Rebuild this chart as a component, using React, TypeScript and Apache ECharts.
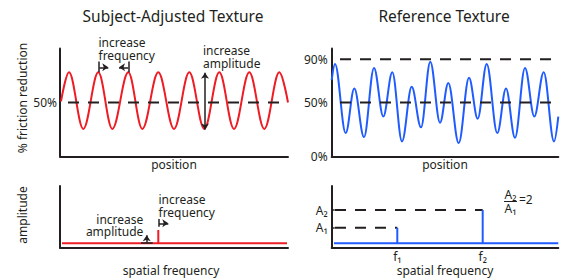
import React, { useEffect, useRef } from 'react';
import * as echarts from 'echarts';

const FONT = '"Noto Sans", "DejaVu Sans", sans-serif';
const INK = '#231f20';
const RED = '#ee1c24';
const BLUE = '#1f5bff';

// Subject-adjusted texture: position vs % friction reduction (extrema)
const subjectPos = [1, 9, 23.3, 38.3, 52.3, 68.3, 82.3, 98.3, 114, 129.3, 144.3, 159.3, 174, 189.3, 204.3, 219.3, 228];
const subjectFriction = [51, 78, 25.5, 78, 25.5, 78, 25.5, 78, 25.5, 78, 25.5, 78, 25.5, 78, 25.5, 78, 50];
const subjectLevels = [50];

// Reference texture
const refPos = [0, 3.3, 14, 22.6, 32.3, 42.3, 51.6, 60.6, 70.3, 80, 89.3, 98.6, 108.3, 116.6, 127, 137.3, 146, 155, 165.6, 174.3, 183.3, 193.3, 202.6, 212, 222.3, 226.6];
const refFriction = [70.8, 85.7, 21.7, 63, 18, 82, 37, 78, 14, 64.5, 27, 87.8, 31.3, 68, 12.4, 73, 35, 85.7, 21.7, 63, 17.4, 82, 37, 78, 14, 37];
const refLevels = [50, 90];

const leftTickValues = [50];
const rightTickValues = [0, 50, 90];

// Spectra
const spectrumBase = 0.71;
const subjectFreq = 98.3;
const subjectAmp = 2.85;
const refFreqs = [65.6, 151];
const refAmps = [3.24, 6.11];
const freqLabels = ['f\u2081', 'f\u2082'];
const ampLabels = ['A\u2081', 'A\u2082'];

const TOP_W = 228;
const TOP_W2 = 226.6;

const arrowLine = (a: number[], b: number[], s0 = 'none', s1 = 'arrow') => [
  { coord: a, symbol: s0 },
  { coord: b, symbol: s1 },
];

const txt = (text: string, x: number, y: number, opts: any = {}) => ({
  type: 'text',
  x,
  y,
  rotation: opts.rotation || 0,
  silent: true,
  style: {
    text,
    x: 0,
    y: 0,
    fill: INK,
    fontFamily: FONT,
    fontSize: opts.fontSize || 12,
    align: opts.align || 'center',
    verticalAlign: opts.verticalAlign || 'middle',
    textAlign: opts.align || 'center',
    textVerticalAlign: opts.verticalAlign || 'middle',
  },
});

export default function App() {
  const ref = useRef<HTMLDivElement>(null);

  useEffect(() => {
    if (!ref.current) return;
    const chart = echarts.init(ref.current, undefined, { renderer: 'svg' });

    const axisLine = { show: true, lineStyle: { color: INK, width: 2 } };
    const baseAxis = (gridIndex: number, max: number, extra: any = {}) => ({
      type: 'value',
      gridIndex,
      min: 0,
      max,
      axisLine,
      axisTick: { show: false },
      splitLine: { show: false },
      axisLabel: { show: false },
      ...extra,
    });

    const dashStyle = { color: INK, width: 2, type: [11, 9] as any };
    const markCommon = {
      silent: true,
      animation: false,
      symbolSize: 6,
      label: { show: false },
      lineStyle: { color: INK, width: 1.5, type: 'solid' },
      emphasis: { disabled: true },
    };

    const subjectSpectrum: number[][] = [
      [2, spectrumBase],
      [subjectFreq, spectrumBase],
      [subjectFreq, subjectAmp],
      [subjectFreq, spectrumBase],
      [TOP_W - 1, spectrumBase],
    ];
    const refSpectrum: number[][] = [[2.3, spectrumBase]];
    refFreqs.forEach((f, i) => {
      refSpectrum.push([f, spectrumBase], [f, refAmps[i]], [f, spectrumBase]);
    });
    refSpectrum.push([TOP_W2, spectrumBase]);

    const nearestIdx = (arr: number[], v: number) => {
      let best = 0;
      arr.forEach((a, i) => {
        if (Math.abs(a - v) < Math.abs(arr[best] - v)) best = i;
      });
      return best;
    };

    const option: any = {
      animation: false,
      textStyle: { fontFamily: FONT, color: INK },
      grid: [
        { left: 60, top: 48.5, width: TOP_W, height: 108 },
        { left: 331.7, top: 48.5, width: TOP_W2, height: 108 },
        { left: 60, top: 186, width: TOP_W, height: 61.7 },
        { left: 331.7, top: 186, width: TOP_W2, height: 61.7 },
      ],
      xAxis: [
        baseAxis(0, TOP_W),
        baseAxis(1, TOP_W2),
        baseAxis(2, TOP_W),
        baseAxis(3, TOP_W2, {
          axisLabel: {
            show: true,
            customValues: refFreqs,
            formatter: (v: number) => freqLabels[nearestIdx(refFreqs, v)],
            color: INK,
            fontSize: 12,
            margin: 3,
          },
        }),
      ],
      yAxis: [
        baseAxis(0, 100, {
          axisLabel: {
            show: true,
            customValues: leftTickValues,
            formatter: '{value}%',
            color: INK,
            fontSize: 12,
            margin: 3,
          },
        }),
        baseAxis(1, 100, {
          axisLabel: {
            show: true,
            customValues: rightTickValues,
            formatter: '{value}%',
            color: INK,
            fontSize: 12,
            margin: 4,
          },
        }),
        baseAxis(2, 10),
        baseAxis(3, 10, {
          axisTick: {
            show: true,
            inside: true,
            length: 3,
            customValues: refAmps,
            lineStyle: { color: INK, width: 1.5 },
          },
          axisLabel: {
            show: true,
            customValues: refAmps,
            formatter: (v: number) => ampLabels[nearestIdx(refAmps, v)],
            color: INK,
            fontSize: 12,
            margin: 4,
          },
        }),
      ],
      series: [
        {
          type: 'line',
          xAxisIndex: 0,
          yAxisIndex: 0,
          data: subjectPos.map((x, i) => [x, subjectFriction[i]]),
          smooth: 0.36,
          smoothMonotone: 'x',
          showSymbol: false,
          symbol: 'none',
          lineStyle: { color: RED, width: 2 },
          z: 2,
          markLine: {
            ...markCommon,
            data: [
              arrowLine([38.3, 78], [38.3, 88], 'none', 'none'),
              arrowLine([39.3, 82.6], [48.3, 82.6]),
              arrowLine([69, 78], [69, 88], 'none', 'none'),
              arrowLine([68.3, 82.6], [59, 82.6]),
              arrowLine([145, 77.6], [145, 25], 'arrow', 'arrow'),
            ],
          },
        },
        ...subjectLevels.map((lv) => ({
          type: 'line',
          xAxisIndex: 0,
          yAxisIndex: 0,
          data: [
            [8, lv],
            [TOP_W, lv],
          ],
          symbol: 'none',
          lineStyle: dashStyle,
          z: 3,
        })),
        {
          type: 'line',
          xAxisIndex: 1,
          yAxisIndex: 1,
          data: refPos.map((x, i) => [x, refFriction[i]]),
          smooth: 0.36,
          smoothMonotone: 'x',
          showSymbol: false,
          symbol: 'none',
          lineStyle: { color: BLUE, width: 2 },
          z: 2,
        },
        ...refLevels.map((lv) => ({
          type: 'line',
          xAxisIndex: 1,
          yAxisIndex: 1,
          data: [
            [8.3, lv],
            [TOP_W2, lv],
          ],
          symbol: 'none',
          lineStyle: dashStyle,
          z: 3,
        })),
        {
          type: 'line',
          xAxisIndex: 2,
          yAxisIndex: 2,
          data: subjectSpectrum,
          symbol: 'none',
          lineStyle: { color: RED, width: 2, join: 'miter' },
          z: 2,
          markLine: {
            ...markCommon,
            data: [
              arrowLine([81, 0.81], [92.7, 0.81], 'none', 'none'),
              arrowLine([86.7, 0.81], [86.7, 2.0]),
              arrowLine([99, 3.4], [99, 4.65], 'none', 'none'),
              arrowLine([99, 3.95], [108.3, 3.95]),
            ],
          },
        },
        {
          type: 'line',
          xAxisIndex: 3,
          yAxisIndex: 3,
          data: refSpectrum,
          symbol: 'none',
          lineStyle: { color: BLUE, width: 2, join: 'miter' },
          z: 2,
        },
        ...refFreqs.map((f, i) => ({
          type: 'line',
          xAxisIndex: 3,
          yAxisIndex: 3,
          data: [
            [3.3, refAmps[i]],
            [f, refAmps[i]],
          ],
          symbol: 'none',
          lineStyle: dashStyle,
          z: 1,
        })),
      ],
      graphic: [
        txt('Subject-Adjusted Texture', 173, 16, { fontSize: 15.5 }),
        txt('Reference Texture', 444, 16, { fontSize: 15.5 }),
        txt('% friction reduction', 22, 98, { rotation: Math.PI / 2 }),
        txt('position', 174, 164.5),
        txt('position', 445, 164.5),
        txt('amplitude', 22, 215, { rotation: Math.PI / 2 }),
        txt('spatial frequency', 171, 270.5),
        txt('spatial frequency', 445, 270),
        txt('increase', 98.5, 42.3, { align: 'left' }),
        txt('frequency', 98.5, 55, { align: 'left' }),
        txt('increase', 203, 50.7, { align: 'left' }),
        txt('amplitude', 203, 63.3, { align: 'left' }),
        txt('increase', 158.5, 199, { align: 'left' }),
        txt('frequency', 158.5, 212.3, { align: 'left' }),
        txt('increase', 143.3, 219.3, { align: 'right' }),
        txt('amplitude', 143.3, 231.7, { align: 'right' }),
        txt('A\u2082', 510.5, 194.5),
        {
          type: 'line',
          silent: true,
          shape: { x1: 504, y1: 201.5, x2: 517, y2: 201.5 },
          style: { stroke: INK, lineWidth: 1 },
        },
        txt('A\u2081', 510.5, 208.5),
        txt('=2', 519, 199, { align: 'left' }),
      ],
    };

    chart.setOption(option);
    return () => chart.dispose();
  }, []);

  return (
    <div
      ref={ref}
      style={{ position: 'fixed', left: 0, top: 0, width: 562, height: 280, background: '#fff' }}
    />
  );
}
